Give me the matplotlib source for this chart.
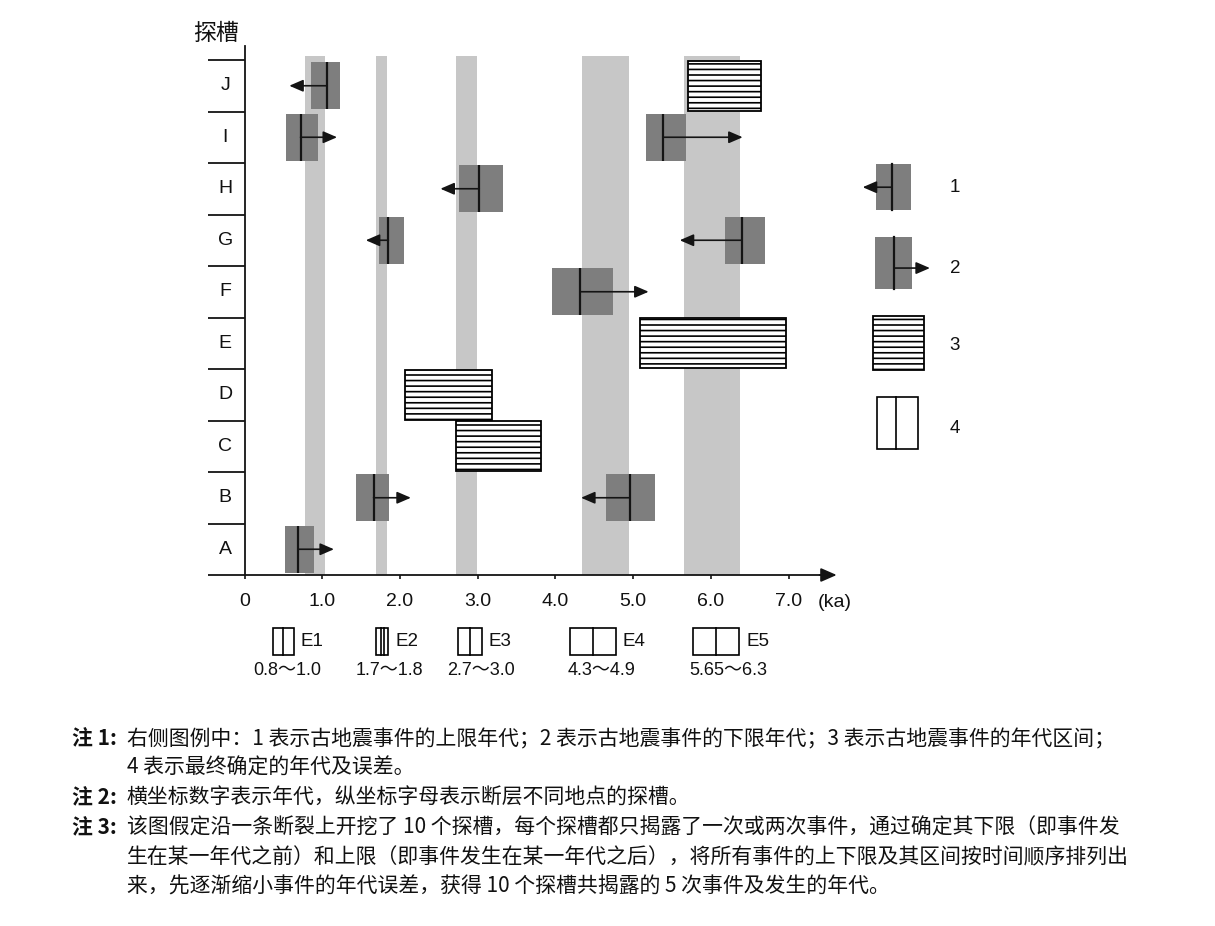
import numpy as np
import matplotlib
matplotlib.use("Agg")
import matplotlib.pyplot as plt
from matplotlib.patches import Rectangle

# ---------------- data ----------------
trenches = ["A", "B", "C", "D", "E", "F", "G", "H", "I", "J"]

# dated limits (legend type 1 = upper limit / arrow left, type 2 = lower limit / arrow right)
lim_trench = ["J", "I", "I", "H", "G", "G", "F", "B", "B", "A"]
lim_age = [1.06, 0.72, 5.39, 3.02, 1.85, 6.40, 4.32, 1.66, 4.96, 0.69]
lim_lo = [0.86, 0.53, 5.17, 2.76, 1.73, 6.18, 3.96, 1.44, 4.65, 0.52]
lim_hi = [1.23, 0.94, 5.68, 3.33, 2.05, 6.70, 4.74, 1.86, 5.28, 0.89]
lim_arrow = [0.575, 1.19, 6.41, 2.52, 1.56, 5.60, 5.20, 2.14, 4.33, 1.15]

# age intervals (legend type 3)
int_trench = ["J", "E", "D", "C"]
int_lo = [5.71, 5.09, 2.06, 2.72]
int_hi = [6.64, 6.97, 3.19, 3.81]

# final events (legend type 4), band extents as drawn
events = ["E1", "E2", "E3", "E4", "E5"]
event_lo = [0.78, 1.69, 2.72, 4.34, 5.66]
event_hi = [1.04, 1.83, 2.99, 4.95, 6.38]
event_ranges = ["0.8～1.0", "1.7～1.8", "2.7～3.0", "4.3～4.9", "5.65～6.3"]

x_ticks = [0, 1, 2, 3, 4, 5, 6, 7]
x_ticklabels = ["0", "1.0", "2.0", "3.0", "4.0", "5.0", "6.0", "7.0"]

legend_numbers = ["1", "2", "3", "4"]

notes = [
    ("注 1:", "右侧图例中：1 表示古地震事件的上限年代；2 表示古地震事件的下限年代；3 表示古地震事件的年代区间；"),
    (None, "4 表示最终确定的年代及误差。"),
    ("注 2:", "横坐标数字表示年代，纵坐标字母表示断层不同地点的探槽。"),
    ("注 3:", "该图假定沿一条断裂上开挖了 10 个探槽，每个探槽都只揭露了一次或两次事件，通过确定其下限（即事件发"),
    (None, "生在某一年代之前）和上限（即事件发生在某一年代之后），将所有事件的上下限及其区间按时间顺序排列出"),
    (None, "来，先逐渐缩小事件的年代误差，获得 10 个探槽共揭露的 5 次事件及发生的年代。"),
]

# ---------------- style ----------------
plt.rcParams["font.family"] = ["Liberation Sans", "Noto Sans CJK SC"]
plt.rcParams["hatch.linewidth"] = 1.2
CJK = ["Noto Sans CJK SC", "Liberation Sans"]
DARK = "#7e7e7e"
BAND = "#c7c7c7"
INK = "#141414"

W, H = 1215, 926
fig = plt.figure(figsize=(W / 100, H / 100), dpi=100)
fig.patch.set_facecolor("white")

# layout: pixel anchor of data origin and scale
X0, SX = 244.6, 77.7
Y0, SY = 575.0, 51.5
xlim = (-0.6, 9.9)
ylim = (-2.4, 10.7)
lpx = X0 + SX * xlim[0]
rpx = X0 + SX * xlim[1]
bpx = Y0 - SY * ylim[0]
tpx = Y0 - SY * ylim[1]
ax = fig.add_axes([lpx / W, 1 - bpx / H, (rpx - lpx) / W, (bpx - tpx) / H])
ax.set_xlim(xlim)
ax.set_ylim(ylim)
ax.patch.set_alpha(0)

row = {t: i for i, t in enumerate(trenches)}
INSET = 0.04


def arrow(x0, x1, y, ms=14, hl=0.6, hw=0.26, lw=1.2):
    ax.annotate("", xy=(x1, y), xytext=(x0, y),
                arrowprops=dict(arrowstyle=f"-|>,head_length={hl},head_width={hw}",
                                mutation_scale=ms, lw=lw, color=INK,
                                shrinkA=0, shrinkB=0),
                zorder=5)


def limit_box(lo, hi, age, tgt, y0, y1):
    ax.add_patch(Rectangle((lo, y0), hi - lo, y1 - y0, fc=DARK, ec="none", zorder=3))
    ax.plot([age, age], [y0, y1], color=INK, lw=1.6, zorder=4, solid_capstyle="butt")
    arrow(age, tgt, (y0 + y1) / 2)


def interval_box(lo, hi, y0, y1):
    ax.add_patch(Rectangle((lo, y0), hi - lo, y1 - y0, fc="white", ec="black",
                           lw=1.3, hatch="---", zorder=3))


def event_icon(xc, w, y0, y1, lines):
    ax.add_patch(Rectangle((xc - w / 2, y0), w, y1 - y0, fc="white", ec="black",
                           lw=1.2, zorder=3))
    for dx in lines:
        ax.plot([xc + dx, xc + dx], [y0, y1], color="black", lw=1.2, zorder=4)


# event bands
BAND_TOP = 10.08
for lo, hi in zip(event_lo, event_hi):
    ax.add_patch(Rectangle((lo, 0), hi - lo, BAND_TOP, fc=BAND, ec="none", zorder=1))

# limits
for t, a, lo, hi, tg in zip(lim_trench, lim_age, lim_lo, lim_hi, lim_arrow):
    r = row[t]
    limit_box(lo, hi, a, tg, r + INSET, r + 1 - INSET)

# intervals
for t, lo, hi in zip(int_trench, int_lo, int_hi):
    r = row[t]
    interval_box(lo, hi, r + 0.01, r + 0.99)

# axes
for s in ["top", "right"]:
    ax.spines[s].set_visible(False)
ax.spines["left"].set_position(("data", 0))
ax.spines["left"].set_bounds(0, 10.27)
ax.spines["bottom"].set_position(("data", 0))
ax.spines["bottom"].set_bounds(0, 7.5)
for s in ["left", "bottom"]:
    ax.spines[s].set_linewidth(1.3)
    ax.spines[s].set_color(INK)
    ax.spines[s].set_zorder(6)
arrow(7.4, 7.62, 0, ms=12, hl=0.8, hw=0.35, lw=1.3)

ax.set_yticks(range(len(trenches) + 1))
ax.tick_params(axis="y", direction="out", length=26.6, width=1.3, color=INK, labelleft=False)
ax.set_xticks(x_ticks)
ax.set_xticklabels(x_ticklabels)
ax.tick_params(axis="x", direction="out", length=2.8, width=1.2, color=INK, pad=10.5,
               labelsize=14, labelcolor="#111111")
ax.annotate("(ka)", xy=(7.6, 0), xytext=(0, -19.5), textcoords="offset points",
            ha="center", va="center", fontsize=14, color="#111111")

for i, t in enumerate(trenches):
    ax.text(-0.25, i + 0.5, t, ha="center", va="center", fontsize=14, color="#111111")
ax.text(-0.37, 10.52, "探槽", ha="center", va="center", fontsize=16.5, family=CJK,
        fontweight="medium", color="#111111")

# bottom legend of final events
ev_icon_x = [0.497, 1.77, 2.90, 4.48, 6.07]
ev_icon_w = [0.27, 0.155, 0.31, 0.59, 0.59]
ev_lines = [[0], [-0.018, 0.018], [0], [0], [0]]
ev_label_x = [0.55, 1.86, 3.04, 4.59, 6.23]
EV_Y0, EV_Y1 = -1.55, -1.02
for name, rng, xc, w, ln, lx in zip(events, event_ranges, ev_icon_x, ev_icon_w, ev_lines, ev_label_x):
    event_icon(xc, w, EV_Y0, EV_Y1, ln)
    ax.text(xc + w / 2 + 0.09, (EV_Y0 + EV_Y1) / 2, name, ha="left", va="center",
            fontsize=13.5, color="#111111")
    ax.text(lx, -1.85, rng, ha="center", va="center", fontsize=13, color="#111111")

# right legend
LX = 9.14
# 1: upper limit
ax.add_patch(Rectangle((8.126, 7.087), 0.451, 0.893, fc=DARK, ec="none", zorder=3))
ax.plot([8.328, 8.328], [7.087, 7.98], color=INK, lw=1.6, zorder=4)
arrow(8.328, 7.955, 7.53)
# 2: lower limit
ax.add_patch(Rectangle((8.117, 5.548), 0.476, 1.009, fc=DARK, ec="none", zorder=3))
ax.plot([8.36, 8.36], [5.548, 6.557], color=INK, lw=1.6, zorder=4)
arrow(8.36, 8.82, 5.96)
# 3: interval
interval_box(8.084, 8.748, 3.98, 5.035)
# 4: final event
event_icon(8.4025, 0.535, 2.447, 3.46, [-0.0225])
for lab, y in zip(legend_numbers, [7.53, 5.96, 4.45, 2.835]):
    ax.text(LX, y, lab, ha="center", va="center", fontsize=13.5, color="#111111")

# notes below the chart
note_y = [739, 768, 798, 827.5, 857, 886.5]
for (prefix, body), y in zip(notes, note_y):
    if prefix:
        fig.text(71.7 / W, 1 - y / H, prefix, ha="left", va="center", fontsize=15,
                 family=CJK, fontweight="bold", color="#111111")
    fig.text(126.7 / W, 1 - y / H, body, ha="left", va="center", fontsize=15,
             family=CJK, color="#111111")

fig.savefig("out.png", dpi=100, facecolor="white")
